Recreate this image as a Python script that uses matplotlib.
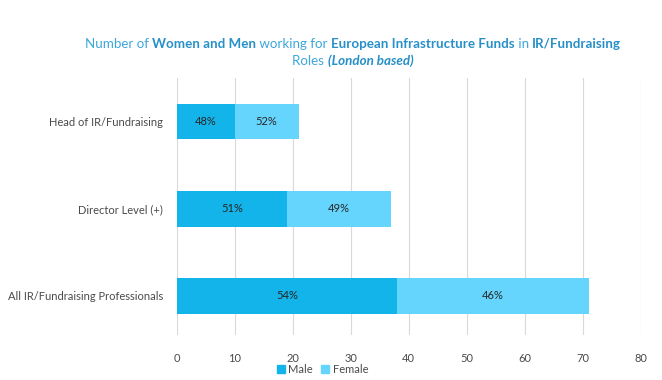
import matplotlib
matplotlib.use("Agg")
import matplotlib.pyplot as plt
from matplotlib.patches import Patch
from matplotlib.offsetbox import TextArea, HPacker, VPacker, AnchoredOffsetbox

# ------------------------------------------------------------------
# Data
# ------------------------------------------------------------------
roles  = ['Head of IR/Fundraising', 'Director Level (+)',
          'All IR/Fundraising Professionals']
male   = [10, 19, 38]
female = [11, 18, 33]
xticks = [0, 10, 20, 30, 40, 50, 60, 70, 80]

c_male   = '#13B4E9'
c_female = '#66D5FE'
c_title  = '#3DA7DB'
c_bold   = '#2790C8'
c_text   = '#4A4A4A'

plt.rcParams['font.family'] = ['Lato', 'DejaVu Sans']

fig = plt.figure(figsize=(6.62, 3.80), dpi=100)
ax = fig.add_axes([0.267, 0.118, 0.701, 0.677])

ypos = list(range(len(roles)))
ax.barh(ypos, male, height=0.41, color=c_male, label='Male', zorder=3)
ax.barh(ypos, female, left=male, height=0.41, color=c_female,
        label='Female', zorder=3)

# percentage labels in the middle of each segment
for i in ypos:
    tot = male[i] + female[i]
    ax.text(male[i] / 2, i, '%d%%' % round(male[i] / tot * 100),
            ha='center', va='center', fontsize=8, color='#262626', zorder=4)
    ax.text(male[i] + female[i] / 2, i, '%d%%' % round(female[i] / tot * 100),
            ha='center', va='center', fontsize=8, color='#262626', zorder=4)

ax.set_ylim(2.45, -0.5)
ax.set_xlim(0, 80)
ax.set_xticks(xticks)
ax.set_yticks(ypos)
ax.set_yticklabels(roles)
ax.tick_params(axis='both', length=0, labelsize=8, labelcolor=c_text)
ax.tick_params(axis='y', pad=10)
ax.tick_params(axis='x', pad=13)
ax.grid(axis='x', color='#D9D9D9', lw=0.8, zorder=0)
for s in ax.spines.values():
    s.set_visible(False)

# ------------------------------------------------------------------
# Title with mixed weights
# ------------------------------------------------------------------
def piece(txt, bold=False, italic=False):
    return TextArea(txt, textprops=dict(
        fontsize=9.6, color=c_bold if bold else c_title,
        fontweight='bold' if bold else 'normal',
        fontstyle='italic' if italic else 'normal'))

line1 = HPacker(children=[piece('Number of '), piece('Women and Men', True),
                          piece(' working for '),
                          piece('European Infrastructure Funds', True),
                          piece(' in '), piece('IR/Fundraising', True)],
                pad=0, sep=0, align='baseline')
line2 = HPacker(children=[piece('Roles '),
                          piece('(London based)', True, True)],
                pad=0, sep=0, align='baseline')
title = VPacker(children=[line1, line2], pad=0, sep=3, align='center')
box = AnchoredOffsetbox(loc='upper center', child=title, pad=0, frameon=False,
                        bbox_to_anchor=(0.533, 0.90),
                        bbox_transform=fig.transFigure, borderpad=0)
fig.add_artist(box)

handles = [Patch(color=c_male, label='Male'), Patch(color=c_female, label='Female')]
fig.legend(handles=handles, loc='center', bbox_to_anchor=(0.487, 0.027),
           ncol=2, frameon=False, fontsize=8, handlelength=0.7,
           handleheight=0.7, handletextpad=0.3, columnspacing=0.8,
           labelcolor=c_text)

plt.savefig('out.png', dpi=100)
